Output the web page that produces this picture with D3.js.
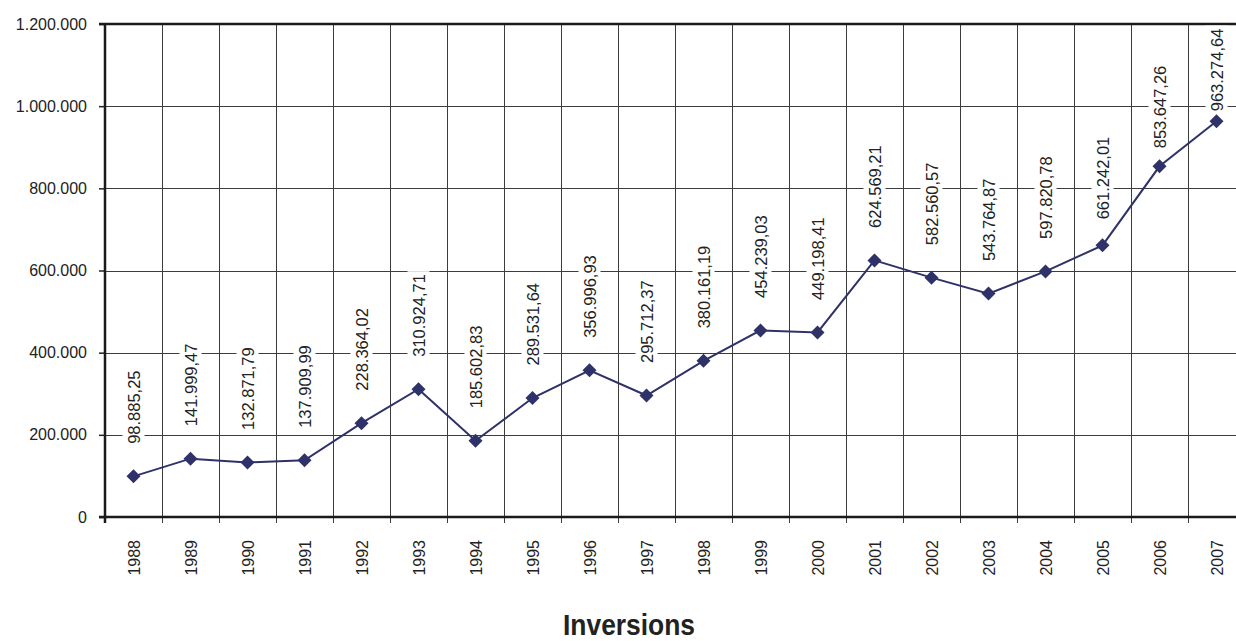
<!DOCTYPE html>
<html>
<head>
<meta charset="utf-8">
<script src="https://cdn.jsdelivr.net/npm/d3@7"></script>
<style>
  html, body { margin: 0; padding: 0; background: #fff; }
  svg { display: block; }
  text { font-family: "Liberation Sans", Arial, sans-serif; fill: #222; }
</style>
</head>
<body>
<svg id="chart" width="1236" height="641"></svg>
<script>
// ---- data ----
const years = ["1988","1989","1990","1991","1992","1993","1994","1995","1996","1997",
               "1998","1999","2000","2001","2002","2003","2004","2005","2006","2007"];
const inversions = [98885.25, 141999.47, 132871.79, 137909.99, 228364.02, 310924.71,
                    185602.83, 289531.64, 356996.93, 295712.37, 380161.19, 454239.03,
                    449198.41, 624569.21, 582560.57, 543764.87, 597820.78, 661242.01,
                    853647.26, 963274.64];
const yTicks = [0, 200000, 400000, 600000, 800000, 1000000, 1200000];
const chartTitle = "Inversions";

// ---- layout (style only) ----
const plotLeft = 105, plotTop = 24, plotBottom = 517, bandW = 57;
const plotRight = plotLeft + bandW * years.length;
const labelGap = years.map((d, i) => i === 17 ? 26 : i === 18 ? 18 : i === 19 ? 10 : 32.5);
const navy = "#2f3169";
const gridColor = "#3c3c3c";

const locale = d3.formatLocale({decimal: ",", thousands: ".", grouping: [3], currency: ["", ""]});
const fmtAxis = locale.format(",.0f");
const fmtLabel = locale.format(",.2f");

const svg = d3.select("#chart");

const x = d3.scaleBand().domain(years).range([plotLeft, plotRight]).paddingInner(0).paddingOuter(0);
const y = d3.scaleLinear().domain([0, 1200000]).range([plotBottom, plotTop]);

const cx = d => x(d) + x.bandwidth() / 2;

// horizontal gridlines
svg.append("g").selectAll("line")
  .data(yTicks.filter(t => t > 0 && t < 1200000))
  .join("line")
  .attr("x1", plotLeft).attr("x2", plotRight)
  .attr("y1", d => Math.round(y(d)) + 0.5).attr("y2", d => Math.round(y(d)) + 0.5)
  .attr("stroke", gridColor).attr("stroke-width", 1);

// vertical gridlines + ticks at category boundaries
const bounds = years.slice(1).map(d => x(d));
svg.append("g").selectAll("line")
  .data(bounds)
  .join("line")
  .attr("x1", d => Math.round(d) + 0.5).attr("x2", d => Math.round(d) + 0.5)
  .attr("y1", plotTop).attr("y2", plotBottom + 6)
  .attr("stroke", gridColor).attr("stroke-width", 1);

// y axis
const yAxis = d3.axisLeft(y).tickValues(yTicks).tickFormat(fmtAxis).tickSize(6).tickPadding(12);
const gy = svg.append("g").attr("transform", `translate(${plotLeft},0)`).call(yAxis);
gy.select(".domain").remove();
gy.selectAll(".tick line").attr("stroke", "#222").attr("stroke-width", 1.5);
gy.selectAll(".tick text")
  .style("font-family", "'Liberation Sans', Arial, sans-serif")
  .style("font-size", "16px").attr("fill", "#222");

// frame lines (top, left, bottom)
svg.append("line").attr("x1", plotLeft - 6).attr("x2", plotRight).attr("y1", plotTop).attr("y2", plotTop)
  .attr("stroke", "#1a1a1a").attr("stroke-width", 2.5);
svg.append("line").attr("x1", plotLeft).attr("x2", plotLeft).attr("y1", plotTop).attr("y2", plotBottom + 6)
  .attr("stroke", "#1a1a1a").attr("stroke-width", 2.5);
svg.append("line").attr("x1", plotLeft - 6).attr("x2", plotRight).attr("y1", plotBottom).attr("y2", plotBottom)
  .attr("stroke", "#1a1a1a").attr("stroke-width", 2.5);

// x labels
svg.append("g").selectAll("text")
  .data(years)
  .join("text")
  .attr("transform", d => `translate(${cx(d) + 6},540) rotate(-90)`)
  .attr("text-anchor", "end")
  .style("font-size", "16px")
  .text(d => d);

// line
const pts = years.map((d, i) => ({year: d, v: inversions[i], i}));
svg.append("path")
  .datum(pts)
  .attr("d", d3.line().x(d => cx(d.year)).y(d => y(d.v)))
  .attr("fill", "none").attr("stroke", navy).attr("stroke-width", 2);

// data labels (white boxes)
const lg = svg.append("g").selectAll("g").data(pts).join("g")
  .attr("transform", d => `translate(${cx(d.year)},${y(d.v) - labelGap[d.i]})`);
lg.append("text")
  .attr("class", "lbl")
  .attr("transform", "translate(6,0) rotate(-90)")
  .attr("text-anchor", "start")
  .style("font-size", "16.5px")
  .text(d => fmtLabel(d.v));
lg.each(function() {
  const g = d3.select(this);
  const len = g.select("text").node().getComputedTextLength();
  g.insert("rect", "text")
    .attr("x", -11).attr("width", 22)
    .attr("y", -len - 3).attr("height", len + 5)
    .attr("fill", "#fff");
});

// markers
svg.append("g").selectAll("path")
  .data(pts)
  .join("path")
  .attr("transform", d => `translate(${cx(d.year)},${y(d.v)})`)
  .attr("d", "M0,-7L7,0L0,7L-7,0Z")
  .attr("fill", navy);

// title
svg.append("text")
  .attr("x", 629).attr("y", 635)
  .attr("text-anchor", "middle")
  .attr("textLength", 132).attr("lengthAdjust", "spacingAndGlyphs")
  .style("font-size", "29px").style("font-weight", "bold")
  .text(chartTitle);
</script>
</body>
</html>
